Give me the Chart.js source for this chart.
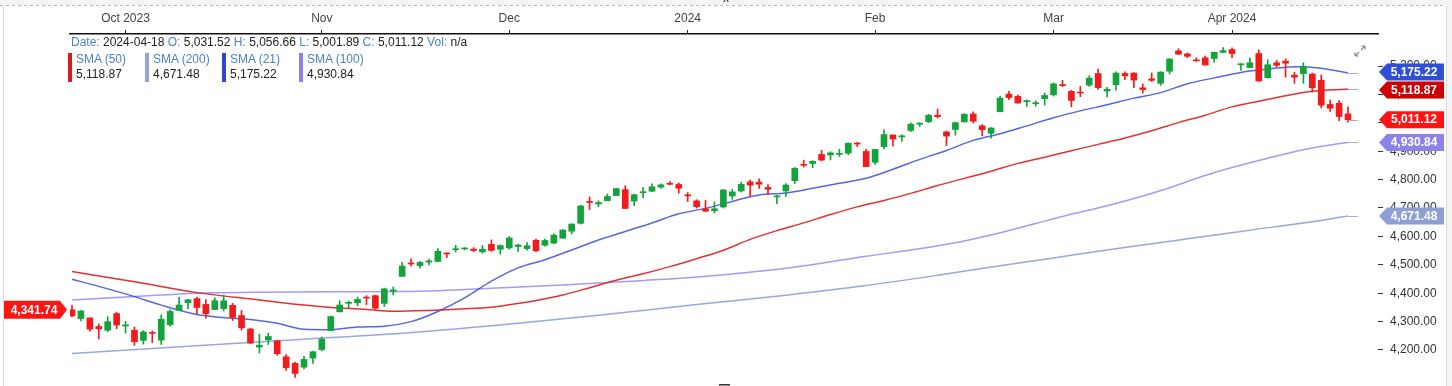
<!DOCTYPE html>
<html>
<head>
<meta charset="utf-8">
<title>S&amp;P 500 daily</title>
<script src="https://cdn.jsdelivr.net/npm/chart.js@4.4.1/dist/chart.umd.min.js"></script>
<style>
  html, body { margin: 0; padding: 0; background: #fff; }
  #wrap { position: relative; width: 1452px; height: 386px; overflow: hidden; font-family: Arial, "Liberation Sans", sans-serif; }
  #chart { position: absolute; left: 0; top: 0; }
  #ohlc { position: absolute; left: 71px; top: 35px; font-size: 12px; line-height: 14px; color: #222; white-space: nowrap; }
  .k { color: #4a84c2; }
  .sma { position: absolute; top: 52px; padding-left: 8px; font-size: 12px; line-height: 15px; color: #222; white-space: nowrap; }
  .sma .sw { position: absolute; left: 0; top: 1px; width: 4px; height: 29px; }
</style>
</head>
<body>
<div id="wrap">
  <canvas id="chart" width="1452" height="386"></canvas>
  <div id="ohlc"></div>
  <div id="legend"></div>
</div>
<script>
// -----------------------------------------------------
//  Data : daily candles 2023-09-22 .. 2024-04-18
// -----------------------------------------------------
const lastDate = "2024-04-18";

const opens = [
  4341.74, 4310.62, 4312.88, 4282.63, 4269.65, 4328.18,
  4284.52, 4269.75, 4233.83, 4259.31, 4234.79, 4289.02, 4339.75, 4366.59, 4380.94, 4360.49, 4342.37, 4345.23, 4357.35, 4321.36, 4273.85, 4210.40, 4235.79, 4232.42, 4175.99, 4152.93, 4139.39, 4171.33,
  4201.27, 4268.26, 4334.23, 4364.27, 4366.21, 4384.37, 4391.41, 4364.15, 4406.66, 4458.97, 4505.30, 4497.08, 4509.55, 4511.70, 4538.77, 4553.04, 4555.84, 4554.86, 4545.55, 4571.84, 4554.87,
  4559.43, 4564.37, 4557.25, 4586.23, 4568.84, 4576.20, 4593.39, 4618.30, 4646.20, 4721.04, 4714.23, 4725.58, 4743.72, 4764.73, 4724.29, 4753.92, 4758.86, 4773.45, 4786.44, 4782.88,
  4745.20, 4725.07, 4697.42, 4690.57, 4703.70, 4741.93, 4759.94, 4792.13, 4791.18, 4772.35, 4739.13, 4760.10, 4796.28, 4853.42, 4856.80, 4888.56, 4886.66, 4888.91, 4892.95, 4925.89, 4899.19,
  4861.11, 4916.06, 4957.19, 4950.16, 4973.05, 4995.16, 5004.17, 5026.83, 4967.94, 4976.44, 5003.14, 5031.13, 4989.32, 4963.03, 5038.83, 5100.92, 5093.00, 5074.60, 5067.20, 5085.36,
  5098.51, 5130.99, 5110.52, 5108.03, 5132.38, 5173.49, 5111.96, 5134.30, 5173.49, 5175.14, 5123.31, 5154.77, 5139.09, 5181.69, 5253.43, 5242.48, 5219.52, 5228.85, 5226.31, 5248.03,
  5257.97, 5204.29, 5194.37, 5244.05, 5158.95, 5211.37, 5217.03, 5167.88, 5172.95, 5171.51, 5149.67, 5064.59, 5068.97, 5031.52
];
const highs = [
  4357.40, 4338.51, 4313.01, 4292.07, 4317.27, 4333.15,
  4300.58, 4281.15, 4268.50, 4267.13, 4324.10, 4341.73, 4385.46, 4378.64, 4385.85, 4377.10, 4383.33, 4393.57, 4364.20, 4339.54, 4276.56, 4255.84, 4259.38, 4232.42, 4183.60, 4156.70, 4177.47, 4195.55,
  4245.64, 4319.72, 4373.62, 4372.21, 4386.26, 4391.20, 4393.40, 4418.03, 4421.76, 4508.67, 4521.17, 4511.99, 4520.12, 4557.11, 4542.14, 4568.43, 4560.31, 4560.52, 4568.14, 4587.64, 4569.89,
  4599.39, 4572.37, 4578.56, 4590.74, 4590.92, 4609.23, 4623.71, 4643.93, 4709.69, 4738.57, 4725.53, 4749.52, 4768.69, 4778.01, 4748.71, 4772.94, 4784.72, 4785.39, 4793.30, 4788.43,
  4754.33, 4729.29, 4726.78, 4721.49, 4764.54, 4765.47, 4790.80, 4798.50, 4802.40, 4782.34, 4744.23, 4785.79, 4842.07, 4868.41, 4866.48, 4903.68, 4898.15, 4906.69, 4929.31, 4931.09, 4906.75,
  4906.97, 4975.29, 4957.19, 4957.77, 4999.89, 5000.40, 5030.06, 5048.39, 4971.30, 5002.52, 5032.72, 5038.70, 4993.71, 4983.21, 5094.39, 5111.06, 5097.66, 5080.69, 5077.37, 5104.99,
  5140.33, 5149.67, 5114.54, 5127.97, 5165.62, 5189.26, 5124.66, 5179.87, 5179.14, 5176.85, 5136.86, 5175.60, 5180.31, 5226.19, 5261.10, 5246.09, 5229.09, 5235.16, 5249.26, 5264.85,
  5263.95, 5208.34, 5228.75, 5256.59, 5222.18, 5219.57, 5224.81, 5178.43, 5211.78, 5175.03, 5168.43, 5079.84, 5077.96, 5056.66
];
const lows = [
  4316.49, 4302.70, 4265.98, 4238.63, 4264.38, 4274.86,
  4260.21, 4216.45, 4220.48, 4225.91, 4219.55, 4283.79, 4339.64, 4345.34, 4325.43, 4311.97, 4342.37, 4337.54, 4303.84, 4269.69, 4223.03, 4189.22, 4219.43, 4181.42, 4127.90, 4103.78, 4132.94, 4153.12,
  4197.74, 4268.26, 4334.23, 4347.53, 4355.41, 4359.76, 4343.94, 4353.34, 4393.82, 4458.97, 4495.31, 4487.83, 4499.66, 4510.36, 4525.51, 4545.05, 4552.80, 4546.32, 4540.51, 4547.15, 4537.24,
  4554.71, 4546.72, 4551.68, 4546.50, 4565.22, 4574.06, 4593.39, 4608.09, 4643.23, 4694.34, 4704.69, 4725.58, 4743.72, 4697.82, 4708.35, 4736.77, 4758.45, 4768.90, 4780.98, 4751.99,
  4722.67, 4699.71, 4687.53, 4682.11, 4699.82, 4730.35, 4756.20, 4739.58, 4768.98, 4747.12, 4714.82, 4740.57, 4785.87, 4844.05, 4842.11, 4865.94, 4869.34, 4881.47, 4887.40, 4916.27, 4845.15,
  4853.52, 4907.99, 4918.09, 4934.88, 4969.05, 4987.09, 5000.34, 5016.83, 4920.31, 4956.45, 5002.64, 4999.52, 4955.02, 4946.00, 5038.83, 5081.46, 5068.91, 5057.29, 5058.35, 5061.89,
  5094.16, 5127.18, 5056.82, 5092.22, 5128.21, 5117.50, 5091.14, 5114.48, 5151.88, 5123.30, 5104.35, 5145.47, 5131.59, 5171.55, 5240.66, 5229.87, 5216.09, 5203.42, 5213.92, 5245.82,
  5229.20, 5184.05, 5194.37, 5146.06, 5157.21, 5197.35, 5160.78, 5138.70, 5138.77, 5107.94, 5052.47, 5039.83, 5007.25, 5001.89
];
const closes = [
  4320.06, 4337.44, 4273.53, 4274.51, 4299.70, 4288.05,
  4288.39, 4229.45, 4263.75, 4258.19, 4308.50, 4335.66, 4358.24, 4376.95, 4349.61, 4327.78, 4373.63, 4373.20, 4314.60, 4278.00, 4224.16, 4217.04, 4247.68, 4186.77, 4137.23, 4117.37, 4166.82, 4193.80,
  4237.86, 4317.78, 4358.34, 4365.98, 4378.38, 4382.78, 4347.35, 4415.24, 4411.55, 4495.70, 4502.88, 4508.24, 4514.02, 4547.38, 4538.19, 4556.62, 4559.34, 4550.43, 4554.89, 4550.58, 4567.80,
  4594.63, 4569.78, 4567.18, 4549.34, 4585.59, 4604.37, 4622.44, 4643.70, 4707.09, 4719.55, 4719.19, 4740.56, 4768.37, 4698.35, 4746.75, 4754.63, 4774.75, 4781.58, 4783.35, 4769.83,
  4742.83, 4704.81, 4688.68, 4697.24, 4763.54, 4756.50, 4783.45, 4780.24, 4783.83, 4765.98, 4739.21, 4780.94, 4839.81, 4850.43, 4864.60, 4868.55, 4894.16, 4890.97, 4927.93, 4924.97, 4845.65,
  4906.19, 4958.61, 4942.81, 4954.23, 4995.06, 4997.91, 5026.61, 5021.84, 4953.17, 5000.62, 5029.73, 5005.57, 4975.51, 4981.80, 5087.03, 5088.80, 5069.53, 5078.18, 5069.76, 5096.27,
  5137.08, 5130.95, 5078.65, 5104.76, 5157.36, 5123.69, 5117.94, 5175.27, 5165.31, 5150.48, 5117.09, 5149.42, 5178.51, 5224.62, 5241.53, 5234.18, 5218.19, 5203.58, 5248.49, 5254.35,
  5243.77, 5205.81, 5211.49, 5147.21, 5204.34, 5202.39, 5209.91, 5160.64, 5199.06, 5123.41, 5061.82, 5051.41, 5022.21, 5011.12
];

// month ticks (candle index of first session of the month)
const monthIdx    = [6, 28, 49, 69, 90, 110, 130];
const monthLabels = ["Oct 2023", "Nov", "Dec", "2024", "Feb", "Mar", "Apr 2024"];
const priceTicks  = [4200, 4300, 4400, 4500, 4600, 4700, 4800, 4900, 5000, 5100, 5200];

// moving averages (candle index -> value)
const sma21Idx = [0, 3, 7, 10, 14, 17, 20, 23, 26, 29, 32, 35, 38, 41, 44, 47, 50, 53, 56, 59, 62, 65, 68, 71, 74, 77, 80, 83, 86, 89, 92, 95, 98, 101, 104, 107, 110, 113, 116, 119, 122, 125, 128, 131, 134, 137, 140, 143];
const sma21 = [4449, 4424, 4388, 4358, 4325, 4314, 4307.30, 4293.99, 4273.00, 4271.47, 4281.01, 4283.89, 4299.87, 4335.72, 4383.47, 4442.25, 4489.05, 4517.60, 4552.13, 4587.16, 4617.52, 4647.14, 4679.47, 4698.71, 4723.24, 4745.96, 4752.64, 4769.19, 4787.17, 4804.49, 4836.46, 4871.22, 4902.36, 4938.07, 4961.38, 4989.13, 5017.92, 5042.05, 5063.56, 5086.87, 5106.35, 5137.59, 5158.24, 5177.33, 5189.17, 5197.46, 5192.37, 5175.22];

const sma50Idx = [0, 7, 14, 21, 26, 29, 33, 36, 40, 44, 47, 49, 52, 55, 58, 61, 64, 67, 70, 73, 76, 79, 82, 85, 88, 91, 94, 97, 100, 103, 106, 109, 112, 115, 118, 121, 124, 127, 130, 133, 136, 139, 143];
const sma50 = [4476, 4440, 4402, 4376, 4358, 4350, 4343, 4336.2, 4339.2, 4344.8, 4350.9, 4359.52, 4374.63, 4393.63, 4419.40, 4445.92, 4468.22, 4493.52, 4521.53, 4551.49, 4589.47, 4620.26, 4647.63, 4677.27, 4703.94, 4726.76, 4751.52, 4779.33, 4804.35, 4829.57, 4857.07, 4879.03, 4901.82, 4924.02, 4946.49, 4972.10, 5000.65, 5026.82, 5056.03, 5076.22, 5095.48, 5111.17, 5118.87];

const sma100Idx = [0, 7, 14, 21, 29, 37, 44, 55, 62, 70, 80, 89, 94, 99, 102, 105, 108, 111, 114, 117, 120, 123, 126, 129, 132, 135, 138, 141, 143];
const sma100 = [4376, 4388, 4400, 4403, 4405, 4406, 4413, 4429, 4441, 4457, 4488, 4530, 4552, 4577.34, 4598.14, 4621.09, 4645.45, 4670.07, 4692.63, 4716.05, 4742.21, 4771.22, 4803.95, 4833.52, 4859.10, 4883.19, 4904.78, 4921.45, 4930.84];

const sma200Idx = [0, 13, 26, 37, 48, 59, 70, 80, 89, 97, 104, 110, 115, 121, 126, 132, 138, 143];
const sma200 = [4188, 4213, 4238, 4259, 4288, 4322, 4360, 4393, 4427, 4463, 4497, 4524, 4548, 4574, 4596, 4622, 4647, 4671.48];

// -----------------------------------------------------
//  Styles
// -----------------------------------------------------
const GREEN = "#14a23c";
const RED = "#f21b1b";
const FONT = 'Arial, "Liberation Sans", sans-serif';

// legend order = 50, 200, 21, 100
const smaSeries = [
  { name: "SMA (50)",  idx: sma50Idx,  vals: sma50,  line: "rgba(222,28,28,0.9)",   swatch: "#d41c1c", tag: "#cc0000" },
  { name: "SMA (200)", idx: sma200Idx, vals: sma200, line: "rgba(125,145,215,0.8)",  swatch: "#95a3d8", tag: "#8e9fd6" },
  { name: "SMA (21)",  idx: sma21Idx,  vals: sma21,  line: "rgba(55,75,220,0.85)",   swatch: "#2e46d0", tag: "#2f4fd6" },
  { name: "SMA (100)", idx: sma100Idx, vals: sma100, line: "rgba(135,120,240,0.75)", swatch: "#8b80ee", tag: "#8b82ea" }
];

const fmt = v => v.toLocaleString("en-US", { minimumFractionDigits: 2, maximumFractionDigits: 2 });
const last = closes.length - 1;

// ---------------- HEADER / LEGEND ----------------
document.getElementById("ohlc").innerHTML =
  `<span class="k">Date:</span> ${lastDate} <span class="k">O:</span> ${fmt(opens[last])} ` +
  `<span class="k">H:</span> ${fmt(highs[last])} <span class="k">L:</span> ${fmt(lows[last])} ` +
  `<span class="k">C:</span> ${fmt(closes[last])} <span class="k">Vol:</span> n/a`;

const legendX = [68, 145, 222, 299];
const legend = document.getElementById("legend");
smaSeries.forEach((s, i) => {
  const d = document.createElement("div");
  d.className = "sma";
  d.style.left = legendX[i] + "px";
  d.innerHTML = `<div class="sw" style="background:${s.swatch}"></div><div class="k">${s.name}</div><div>${fmt(s.vals[s.vals.length - 1])}</div>`;
  legend.appendChild(d);
});

// ---------------- DECORATION + PRICE TAGS ----------------
function tagShape(c, x0, x1, tip, y, h) {
  c.beginPath();
  if (tip < x0) {           // arrow on the left
    c.moveTo(tip, y);
    c.lineTo(x0, y - h / 2);
    c.lineTo(x1, y - h / 2);
    c.lineTo(x1, y + h / 2);
    c.lineTo(x0, y + h / 2);
  } else {                  // arrow on the right
    c.moveTo(x0, y - h / 2);
    c.lineTo(x1, y - h / 2);
    c.lineTo(tip, y);
    c.lineTo(x1, y + h / 2);
    c.lineTo(x0, y + h / 2);
  }
  c.closePath();
  c.fill();
}

const decor = {
  id: "decor",
  beforeDraw(chart) {
    const c = chart.ctx;
    c.save();
    c.fillStyle = "#fff";
    c.fillRect(0, 0, 1452, 386);
    c.fillStyle = "#f4f4f4";
    c.fillRect(0, 0, 1452, 5);
    c.fillRect(1447, 0, 5, 386);
    c.strokeStyle = "#b5b5b5";
    c.lineWidth = 1;
    c.setLineDash([3, 3]);
    c.beginPath(); c.moveTo(0, 5.5); c.lineTo(1446, 5.5); c.stroke();
    c.setLineDash([]);
    c.strokeStyle = "#dcdcdc";
    c.beginPath();
    c.moveTo(3.5, 6); c.lineTo(3.5, 386);
    c.moveTo(1446.5, 6); c.lineTo(1446.5, 386);
    c.stroke();
    c.restore();
  },
  afterDraw(chart) {
    const c = chart.ctx, xs = chart.scales.x, ys = chart.scales.y;
    const xl = xs.getPixelForValue(last);
    c.save();

    // short grey stubs after the last candle
    const lastVals = [closes[last]].concat(smaSeries.map(s => s.vals[s.vals.length - 1]));
    c.strokeStyle = "#b0b0b0";
    c.lineWidth = 1;
    lastVals.forEach(v => {
      const y = Math.round(ys.getPixelForValue(v)) + 0.5;
      c.beginPath(); c.moveTo(xl, y); c.lineTo(xl + 10, y); c.stroke();
    });

    // right hand tags
    const tags = smaSeries.map(s => ({ v: s.vals[s.vals.length - 1], color: s.tag }));
    tags.push({ v: closes[last], color: "#ff1414" });
    tags.forEach(t => t.y = ys.getPixelForValue(t.v));
    tags.sort((a, b) => a.y - b.y);
    for (let i = 1; i < tags.length; i++) {
      const gap = tags[i].y - tags[i - 1].y;
      if (gap < 18) {
        const s = (18 - gap) / 2;
        tags[i - 1].y -= s;
        tags[i].y += s;
      }
    }
    c.font = "bold 12px " + FONT;
    c.textAlign = "center";
    c.textBaseline = "middle";
    tags.forEach(t => {
      c.fillStyle = t.color;
      tagShape(c, 1387, 1444, 1379, t.y, 17);
      c.fillStyle = "#fff";
      c.fillText(fmt(t.v), 1414, t.y + 0.5);
    });

    // left tag : first open
    const yl = ys.getPixelForValue(opens[0]);
    c.fillStyle = "#ff1414";
    tagShape(c, 4, 60, 67, yl, 18);
    c.fillStyle = "#fff";
    c.fillText(fmt(opens[0]), 34, yl + 0.5);

    // expand icon
    c.strokeStyle = "#8a8a8a";
    c.lineWidth = 1.2;
    c.beginPath();
    c.moveTo(1355, 56); c.lineTo(1359, 52);
    c.moveTo(1355, 56); c.lineTo(1355, 52.5);
    c.moveTo(1355, 56); c.lineTo(1358.5, 56);
    c.moveTo(1365, 46); c.lineTo(1361, 50);
    c.moveTo(1365, 46); c.lineTo(1361.5, 46);
    c.moveTo(1365, 46); c.lineTo(1365, 49.5);
    c.stroke();

    // small handles at top / bottom
    c.fillStyle = "#333";
    c.font = "12px " + FONT;
    c.textBaseline = "alphabetic";
    c.fillText("x", 726, 2);
    c.fillRect(719, 384, 11, 1.5);
    c.restore();
  }
};

// ---------------- CHART ----------------
Chart.defaults.font.family = FONT;
const up = i => closes[i] > opens[i];
const candleColor = ctx => up(ctx.dataIndex) ? GREEN : RED;

const bodies = closes.map((v, i) => ({ x: i, y: [opens[i], closes[i]] }));
const wicks  = closes.map((v, i) => ({ x: i, y: [lows[i], highs[i]] }));

const lineSets = smaSeries.map((s, k) => ({
  type: "line",
  label: s.name,
  data: s.idx.map((x, j) => ({ x: x, y: s.vals[j] })),
  borderColor: s.line,
  borderWidth: 1.5,
  pointRadius: 0,
  cubicInterpolationMode: "monotone",
  order: 3 + k
}));

// no extra label padding around the plot, the plot runs to the bottom edge
const noPad = s => { s.paddingTop = 0; s.paddingBottom = 0; s.paddingLeft = 0; s.paddingRight = 0; };

const ctx = document.getElementById("chart").getContext("2d");
const chart = new Chart(ctx, {
  type: "bar",
  data: {
    datasets: [
      { label: "body", data: bodies, backgroundColor: candleColor, barThickness: 6, grouped: false, minBarLength: 1, order: 0 },
      { label: "wick", data: wicks, backgroundColor: candleColor, barThickness: 1, grouped: false, order: 1 },
      ...lineSets
    ]
  },
  options: {
    responsive: false,
    animation: false,
    events: [],
    layout: { padding: { left: 70, right: 0, top: 0, bottom: 0 } },
    plugins: { legend: { display: false }, tooltip: { enabled: false } },
    scales: {
      x: {
        type: "linear",
        position: "top",
        offset: false,
        min: -0.224,
        max: 146.36,
        grid: { drawOnChartArea: false, drawTicks: true, tickLength: 4, color: "#222", offset: false },
        border: { display: true, color: "#111", width: 1.5 },
        ticks: {
          autoSkip: false, maxRotation: 0, padding: 4, color: "#444",
          font: { size: 12 },
          callback: (v, i) => monthLabels[i]
        },
        afterBuildTicks: s => { s.ticks = monthIdx.map(v => ({ value: v })); },
        afterFit: s => { s.height = 34; noPad(s); }
      },
      y: {
        type: "linear",
        position: "right",
        min: 4073.2,
        max: 5312.7,
        grid: { drawOnChartArea: false, drawTicks: true, tickLength: 5, color: "#333" },
        border: { display: false },
        ticks: { padding: 7, color: "#333", font: { size: 12 }, callback: v => fmt(v) },
        afterBuildTicks: s => { s.ticks = priceTicks.map(v => ({ value: v })); },
        afterFit: s => { s.width = 74; noPad(s); }
      }
    }
  },
  plugins: [decor]
});
</script>
</body>
</html>
